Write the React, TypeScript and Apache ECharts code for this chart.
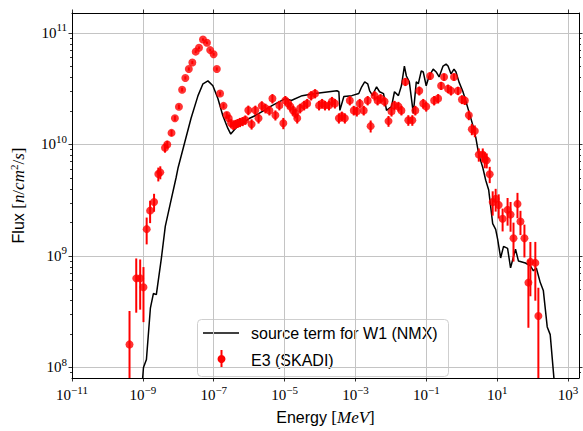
import React, { useEffect, useRef } from 'react';
import * as echarts from 'echarts';

// Source term for W1 (NMX): energy [MeV] and flux [n/cm^2/s]
const lineEnergy = [9.7e-10, 1.04e-9, 1.26e-9, 1.63e-9, 1.98e-9, 2.4e-9, 3.31e-9, 4.29e-9, 5.92e-9, 8.71e-9, 9.9e-9, 1.56e-8, 2.29e-8, 3.6e-8, 4.97e-8, 6.86e-8, 9.46e-8, 1.31e-7, 1.8e-7, 2.49e-7, 3.02e-7, 4.17e-7, 6.55e-7, 1.03e-6, 1.51e-6, 2.38e-6, 4.53e-6, 1.05e-5, 1.54e-5, 3.13e-5, 7.24e-5, 1.79e-4, 2.99e-4, 3.4e-4, 3.63e-4, 4.7e-4, 7.87e-4, 1.24e-3, 1.5e-3, 1.82e-3, 2.21e-3, 2.51e-3, 3.05e-3, 3.47e-3, 3.94e-3, 4.79e-3, 6.19e-3, 7.52e-3, 1.04e-2, 1.26e-2, 1.63e-2, 1.98e-2, 2.4e-2, 2.73e-2, 3.31e-2, 4.29e-2, 5.2e-2, 5.92e-2, 7.18e-2, 8.17e-2, 9.9e-2, 0.12, 0.156, 0.189, 0.229, 0.296, 0.36, 0.409, 0.497, 0.603, 0.686, 0.832, 1.08, 1.31, 1.58, 2.05, 2.49, 3.02, 3.91, 4.74, 5.75, 6.55, 7.45, 9.04, 10.3, 12.5, 15.1, 19.6, 23.8, 32.8, 39.8, 62.5, 86.3, 105, 127, 164, 200, 258, 313, 406];
const lineFlux = [7.5e7, 1.0e8, 1.18e8, 3.4e8, 4.6e8, 4.5e8, 9.4e8, 1.84e9, 2.93e9, 5.08e9, 6.22e9, 1.08e10, 1.72e10, 2.74e10, 3.5e10, 3.72e10, 3.36e10, 2.58e10, 1.82e10, 1.4e10, 1.24e10, 1.4e10, 1.55e10, 1.72e10, 1.82e10, 1.98e10, 2.24e10, 2.58e10, 2.48e10, 2.74e10, 2.86e10, 2.97e10, 3.03e10, 2.97e10, 2.02e10, 2.69e10, 2.74e10, 2.86e10, 3.29e10, 3.64e10, 3.5e10, 3.03e10, 2.74e10, 3.03e10, 3.29e10, 2.97e10, 2.86e10, 2.02e10, 2.19e10, 2.97e10, 2.74e10, 3.36e10, 5.05e10, 4.11e10, 3.64e10, 1.9e10, 3.64e10, 3.5e10, 4.56e10, 4.47e10, 3.36e10, 4.11e10, 4.74e10, 4.47e10, 4.03e10, 5.05e10, 5.25e10, 5.05e10, 4.29e10, 4.74e10, 4.47e10, 3.64e10, 2.97e10, 2.43e10, 1.98e10, 1.49e10, 1.15e10, 8.11e9, 6.22e9, 4.78e9, 3.9e9, 2.76e9, 1.95e9, 1.73e9, 1.41e9, 9.6e8, 1.22e9, 1.17e9, 7.83e8, 1.15e9, 9.0e8, 8.65e8, 8.14e8, 7.36e8, 7.8e8, 5.77e8, 4.91e8, 2.31e8, 1.97e8, 7.5e7];

// E3 (SKADI) measurement: energy, flux and 1-sigma error
const e3Energy = [4.2e-10, 6.5e-10, 8.4e-10, 1.04e-9, 1.28e-9, 1.6e-9, 2.07e-9, 2.73e-9, 3.1e-9, 4.21e-9, 4.88e-9, 6.43e-9, 8.02e-9, 1.04e-8, 1.28e-8, 1.58e-8, 1.98e-8, 2.49e-8, 3.1e-8, 3.84e-8, 4.97e-8, 6.43e-8, 7.94e-8, 9.91e-8, 1.22e-7, 1.51e-7, 1.89e-7, 2.33e-7, 2.65e-7, 3.08e-7, 3.6e-7, 4.09e-7, 4.74e-7, 5.5e-7, 6.55e-7, 7.8e-7, 9.46e-7, 1.17e-6, 1.49e-6, 1.84e-6, 2.27e-6, 2.88e-6, 3.73e-6, 4.53e-6, 5.5e-6, 7.11e-6, 9.2e-6, 1.05e-5, 1.27e-5, 1.45e-5, 1.75e-5, 2.0e-5, 2.27e-5, 2.75e-5, 3.56e-5, 4.33e-5, 5.6e-5, 7.24e-5, 9.38e-5, 1.14e-4, 1.38e-4, 1.79e-4, 2.17e-4, 2.63e-4, 3.4e-4, 4.13e-4, 5.01e-4, 6.92e-4, 8.95e-4, 1.09e-3, 1.32e-3, 1.71e-3, 2.21e-3, 2.68e-3, 3.47e-3, 4.21e-3, 5.1e-3, 6.61e-3, 8.55e-3, 1.04e-2, 1.26e-2, 1.63e-2, 1.98e-2, 2.56e-2, 3.1e-2, 4.02e-2, 4.88e-2, 6.31e-2, 8.17e-2, 9.91e-2, 0.128, 0.166, 0.215, 0.261, 0.316, 0.409, 0.497, 0.603, 0.78, 1.01, 1.22, 1.58, 1.92, 2.33, 3.02, 3.91, 4.45, 5.06, 6.14, 7.45, 9.04, 11.0, 14.2, 19.6, 23.8, 28.8, 37.3, 45.3, 58.6, 75.9, 86.3, 119, 145];
const e3Flux = [1.61e8, 6.3e8, 6.3e8, 5.25e8, 1.74e9, 2.55e9, 3.05e9, 5.43e9, 5.62e9, 9.34e9, 1.0e10, 1.27e10, 1.72e10, 2.18e10, 3.1e10, 3.95e10, 4.75e10, 5.44e10, 6.8e10, 7.37e10, 8.73e10, 8.16e10, 7.02e10, 6.44e10, 4.75e10, 2.86e10, 2.22e10, 1.84e10, 1.72e10, 1.55e10, 1.48e10, 1.52e10, 1.55e10, 1.58e10, 1.61e10, 1.66e10, 2.03e10, 1.52e10, 2.03e10, 1.72e10, 2.22e10, 2.11e10, 2.02e10, 2.58e10, 1.83e10, 2.24e10, 1.55e10, 2.48e10, 2.33e10, 2.19e10, 2.02e10, 1.9e10, 1.72e10, 2.11e10, 2.24e10, 2.33e10, 2.74e10, 2.86e10, 2.24e10, 2.33e10, 2.24e10, 2.24e10, 2.43e10, 2.33e10, 1.72e10, 1.79e10, 1.72e10, 2.48e10, 2.02e10, 1.98e10, 2.33e10, 2.02e10, 2.48e10, 1.46e10, 2.74e10, 2.48e10, 2.58e10, 2.43e10, 1.62e10, 1.98e10, 2.24e10, 2.19e10, 2.02e10, 3.64e10, 1.65e10, 1.65e10, 2.02e10, 3.03e10, 2.33e10, 2.19e10, 4.11e10, 2.48e10, 2.58e10, 3.36e10, 4.03e10, 3.16e10, 3.03e10, 4.03e10, 3.03e10, 2.53e10, 2.48e10, 1.83e10, 1.37e10, 1.32e10, 8.11e9, 8.11e9, 7.32e9, 7.2e9, 5.4e9, 3.05e9, 3.25e9, 2.87e9, 2.16e9, 2.59e9, 2.35e9, 1.44e9, 2.93e9, 2.04e9, 1.44e9, 5.77e8, 8.85e8, 8.67e8, 2.89e8];
const e3Sigma = [1.6e8, 3.2e8, 3.0e8, 2.7e8, 4.7e8, 5.8e8, 5.6e8, 7.7e8, 7.5e8, 9e8, 8e8, 8e8, 9e8, 1e9, 1.2e9, 1.4e9, 1.6e9, 1.8e9, 2e9, 2e9, 2.2e9, 2.2e9, 2e9, 2e9, 1.6e9, 1.2e9, 1.1e9, 1.1e9, 1.2e9, 1.3e9, 1.3e9, 1.4e9, 1.4e9, 1.5e9, 1.5e9, 1.6e9, 2e9, 1.6e9, 2e9, 1.8e9, 2.2e9, 2.1e9, 2e9, 2.5e9, 1.9e9, 2.2e9, 1.8e9, 2.4e9, 2.3e9, 2.2e9, 2e9, 1.9e9, 1.8e9, 2.1e9, 2.2e9, 2.3e9, 2.6e9, 2.7e9, 2.2e9, 2.3e9, 2.2e9, 2.2e9, 2.4e9, 2.3e9, 1.8e9, 1.8e9, 1.8e9, 2.4e9, 2e9, 2e9, 2.3e9, 2e9, 2.4e9, 1.8e9, 2.6e9, 2.4e9, 2.5e9, 2.4e9, 1.8e9, 2e9, 2.2e9, 2.2e9, 2e9, 3e9, 1.8e9, 1.8e9, 2e9, 2.8e9, 2.3e9, 2.2e9, 3.2e9, 2.4e9, 2.5e9, 2.8e9, 3e9, 2.8e9, 2.8e9, 3e9, 2.6e9, 2.3e9, 2.2e9, 1.8e9, 1.6e9, 1.6e9, 1.1e9, 1.1e9, 1.2e9, 1.1e9, 9e8, 7.5e8, 7.5e8, 7e8, 5e8, 7.2e8, 7e8, 5.5e8, 7.5e8, 5e8, 4.7e8, 3.5e8, 4.5e8, 4.7e8, 2.3e8];

// Tick labels (decade exponents)
const xTickExponents = [-11, -9, -7, -5, -3, -1, 1, 3];
const yTickExponents = [8, 9, 10, 11];
const yMinorDecades = [7, 8, 9, 10, 11];
const yMinorMultipliers = [2, 3, 4, 5, 6, 7, 8, 9];

const X_MIN_EXP = -11;
const X_MAX_EXP = 3.308;
const Y_MIN_EXP = 7.9056;
const Y_MAX_EXP = 11.179;

const SERIF = '"Liberation Serif", "DejaVu Serif", serif';
const SANS = '"Liberation Sans", "DejaVu Sans", sans-serif';

const expLabel = (v: number) => {
  const n = Math.round(v);
  return `{b|10}{e|${n < 0 ? '\u2212' : ''}${Math.abs(n)}}`;
};
const tickRich = {
  b: { fontFamily: SERIF, fontSize: 15, color: '#000' },
  e: { fontFamily: SERIF, fontSize: 11, color: '#000', padding: [0, 0, 11, 0] },
};

export default function App() {
  const ref = useRef<HTMLDivElement>(null);
  useEffect(() => {
    if (!ref.current) return;
    const chart = echarts.init(ref.current, undefined, { renderer: 'svg' });
    const yMinor: number[] = [];
    yMinorDecades.forEach((d) => yMinorMultipliers.forEach((m) => {
      const v = d + Math.log10(m);
      if (v > Y_MIN_EXP && v < Y_MAX_EXP) yMinor.push(v);
    }));
    const tickLine = { show: true, lineStyle: { color: '#000', width: 0.8 } };
    const axisLine = { show: true, onZero: false, lineStyle: { color: '#000', width: 1 } };
    const noLine = { show: false, onZero: false };

    const lineData = lineEnergy.map((e, i) => [e, lineFlux[i]]);
    const e3Data = e3Energy.map((e, i) => [e, e3Flux[i]]);
    const errData = e3Energy.map((e, i) => [e, e3Flux[i] - e3Sigma[i], e3Flux[i] + e3Sigma[i]]);

    chart.setOption({
      animation: false,
      grid: { left: 68, top: 13, right: 4, bottom: 47 },
      xAxis: [
        { type: 'log', min: Math.pow(10, X_MIN_EXP), max: Math.pow(10, X_MAX_EXP), show: false },
        {
          type: 'value', min: X_MIN_EXP, max: X_MAX_EXP, position: 'bottom',
          axisLine,
          axisTick: { ...tickLine, length: 3.5, customValues: xTickExponents },
          axisLabel: { customValues: xTickExponents, formatter: expLabel, rich: tickRich, margin: 6 },
          splitLine: { show: true, lineStyle: { color: '#c4c4c4', width: 1 } },
          name: '{s|Energy }{r|[}{m|MeV}{r|]}', nameLocation: 'middle', nameGap: 31,
          nameTextStyle: {
            rich: {
              s: { fontFamily: SANS, fontSize: 16, color: '#000' },
              r: { fontFamily: SERIF, fontSize: 17, color: '#000' },
              m: { fontFamily: SERIF, fontSize: 17, fontStyle: 'italic', color: '#000' },
            },
          },
        },
        {
          type: 'value', min: X_MIN_EXP, max: X_MAX_EXP, position: 'top',
          axisLine,
          axisTick: { ...tickLine, length: 3.5, customValues: xTickExponents },
          axisLabel: { show: false },
          splitLine: { show: false },
        },
      ],
      yAxis: [
        { type: 'log', min: Math.pow(10, Y_MIN_EXP), max: Math.pow(10, Y_MAX_EXP), show: false },
        {
          type: 'value', min: Y_MIN_EXP, max: Y_MAX_EXP, position: 'left',
          axisLine,
          axisTick: { ...tickLine, length: 3.5, customValues: yTickExponents },
          axisLabel: { customValues: yTickExponents, formatter: expLabel, rich: tickRich, margin: 5 },
          splitLine: { show: true, lineStyle: { color: '#c4c4c4', width: 1 } },
          name: '{s|Flux }{r|[}{m|n}{r|/}{m|cm}{p|2}{r|/}{m|s}{r|]}', nameLocation: 'middle', nameGap: 43, nameRotate: 90,
          nameTextStyle: {
            rich: {
              s: { fontFamily: SANS, fontSize: 16, color: '#000' },
              r: { fontFamily: SERIF, fontSize: 17, color: '#000' },
              m: { fontFamily: SERIF, fontSize: 17, fontStyle: 'italic', color: '#000' },
              p: { fontFamily: SERIF, fontSize: 11, color: '#000', padding: [0, 0, 10, 0] },
            },
          },
        },
        {
          type: 'value', min: Y_MIN_EXP, max: Y_MAX_EXP, position: 'left',
          axisLine: noLine,
          axisTick: { ...tickLine, length: 2, customValues: yMinor },
          axisLabel: { show: false }, splitLine: { show: false },
        },
        {
          type: 'value', min: Y_MIN_EXP, max: Y_MAX_EXP, position: 'right',
          axisLine,
          axisTick: { ...tickLine, length: 3.5, customValues: yTickExponents },
          axisLabel: { show: false }, splitLine: { show: false },
        },
        {
          type: 'value', min: Y_MIN_EXP, max: Y_MAX_EXP, position: 'right',
          axisLine: noLine,
          axisTick: { ...tickLine, length: 2, customValues: yMinor },
          axisLabel: { show: false }, splitLine: { show: false },
        },
      ],
      series: [
        {
          name: 'source term for W1 (NMX)', type: 'line', xAxisIndex: 0, yAxisIndex: 0,
          data: lineData, symbol: 'none', lineStyle: { color: '#000', width: 1.5 }, z: 2,
        },
        {
          name: 'E3 err', type: 'custom', xAxisIndex: 0, yAxisIndex: 0, z: 3,
          encode: { x: 0, y: [1, 2] },
          data: errData,
          renderItem: (params: any, api: any) => {
            const x = api.value(0);
            const lo = api.value(1);
            const hi = api.value(2);
            const cs = params.coordSys;
            const pTop = api.coord([x, hi]);
            const pBot = api.coord([x, lo > 0 ? lo : 1]);
            const y1 = Math.max(pTop[1], cs.y);
            const y2 = Math.min(pBot[1], cs.y + cs.height);
            return {
              type: 'line',
              shape: { x1: pTop[0], y1, x2: pTop[0], y2 },
              style: { stroke: '#ff0000', lineWidth: 2 },
            };
          },
        },
        {
          name: 'E3 (SKADI)', type: 'scatter', xAxisIndex: 0, yAxisIndex: 0,
          data: e3Data, symbol: 'circle', symbolSize: 8,
          itemStyle: { color: '#ff0000' }, z: 4,
        },
      ],
      graphic: [
        {
          type: 'group', z: 100, children: [
            { type: 'rect', shape: { x: 197.5, y: 319.5, width: 251, height: 57, r: 4 },
              style: { fill: 'rgba(255,255,255,0.85)', stroke: '#cfcfcf', lineWidth: 1 } },
            { type: 'line', shape: { x1: 203, y1: 333, x2: 239, y2: 333 },
              style: { stroke: '#000', lineWidth: 1.5 } },
            { type: 'text', x: 251, y: 333,
              style: { text: 'source term for W1 (NMX)', fontFamily: SANS, fontSize: 16, fill: '#000', verticalAlign: 'middle' } },
            { type: 'line', shape: { x1: 221.5, y1: 350, x2: 221.5, y2: 368 },
              style: { stroke: '#ff0000', lineWidth: 2 } },
            { type: 'circle', shape: { cx: 221.5, cy: 359, r: 4 }, style: { fill: '#ff0000' } },
            { type: 'text', x: 251, y: 360,
              style: { text: 'E3 (SKADI)', fontFamily: SANS, fontSize: 16, fill: '#000', verticalAlign: 'middle' } },
          ],
        },
      ],
    });
    return () => chart.dispose();
  }, []);
  return <div ref={ref} style={{ position: 'fixed', left: 0, top: 0, width: 583, height: 431, background: '#fff' }} />;
}
